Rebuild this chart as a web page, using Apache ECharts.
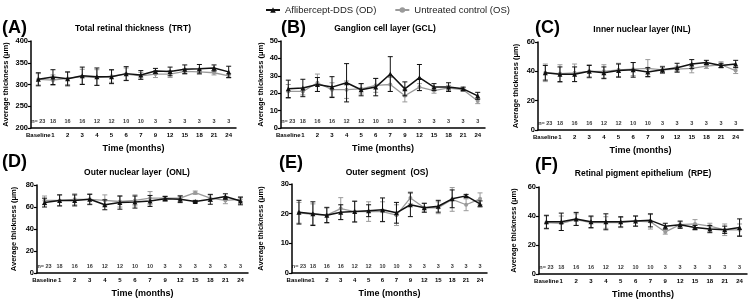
<!DOCTYPE html>
<html>
<head>
<meta charset="utf-8">
<script src="https://cdn.jsdelivr.net/npm/echarts@6/dist/echarts.min.js"></script>
<style>
  html, body { margin: 0; padding: 0; background: #fff; }
  #chart { width: 749px; height: 300px; }
</style>
</head>
<body>
<div id="chart"></div>
<script>
// x categories and n per timepoint
const months = ['Baseline', '1', '2', '3', '4', '5', '6', '7', '9', '12', '15', '18', '21', '24'];
const nCounts = [23, 18, 16, 16, 12, 12, 10, 10, 3, 3, 3, 3, 3, 3];

// (A) TRT
const trtOD   = [312, 317, 313, 320, 318, 318, 325, 322, 331, 330, 335, 336, 338, 329];
const trtODsd = [15, 17, 16, 20, 20, 16, 16, 10, 6, 10, 10, 10, 7, 13];
const trtOS   = [312, 310, 314, 318, 316, 319, 324, 320, 324, 324, 330, 329, 327, 320];
const trtOSsd = [13, 12, 14, 17, 18, 14, 14, 8, 8, 8, 6, 6, 5, 5];
// (B) GCL
const gclOD   = [22.5, 23, 25, 23.5, 26, 22, 23.5, 31, 22.5, 29, 23.5, 23.5, 22.5, 18.5];
const gclODsd = [5, 5, 4, 6, 11, 3.5, 5, 10, 4, 7.5, 2, 2.5, 1, 2];
const gclOS   = [21, 21, 26, 22, 22, 22.5, 24.5, 25, 18.5, 23.5, 21.5, 23, 22, 15.5];
const gclOSsd = [4, 2, 5, 4, 5, 3, 4, 4, 3.5, 2, 1.5, 1.5, 1, 1.5];
// (C) INL
const inlOD   = [39, 38, 38, 40, 39, 40.5, 41, 39.5, 41, 42.5, 45, 46, 44, 45];
const inlODsd = [5, 5, 5, 4, 4, 4.5, 5, 3, 2, 3, 3, 1.5, 1.5, 2.5];
const inlOS   = [39, 38.5, 39, 40, 40, 41, 41.5, 42, 41, 41.5, 42, 43.5, 44.5, 40.5];
const inlOSsd = [6, 6, 6, 4.5, 4.5, 4.5, 4.5, 6, 2.5, 2, 3, 1.5, 2, 2];
// (D) ONL
const onlOD   = [64, 66, 66, 67, 62, 64, 64.5, 65.5, 67.5, 67, 65, 67, 69.5, 65.5];
const onlODsd = [4, 5, 5, 4.5, 4.5, 6, 5.5, 5, 2, 3, 1, 4.5, 2.5, 3.5];
const onlOS   = [66, 66, 67, 67, 66, 65, 66, 68, 68, 68, 73, 68, 66, 67];
const onlOSsd = [4, 5, 5, 5, 5, 5, 5, 6, 2, 2.5, 1.5, 3, 3, 2];
// (E) OS
const osOD    = [20.5, 20, 19.5, 20.5, 20.7, 21, 21.3, 20.3, 23, 22, 22.5, 25, 26, 23.3];
const osODsd  = [4, 4, 2.5, 2.5, 3.5, 2, 4, 3.5, 4, 1.5, 2, 3, 0.5, 1];
const osOS    = [20.3, 19.8, 19.5, 21.7, 20.7, 20.7, 20.7, 19.5, 25.3, 22, 22, 24.8, 23, 25];
const osOSsd  = [3.5, 3.5, 2.7, 3.7, 3.5, 3.3, 3.3, 3.5, 2, 1.5, 2, 4, 2, 2];
// (F) RPE
const rpeOD   = [36, 36, 38, 36, 36, 36, 36.5, 37, 33, 34, 32, 31, 30.5, 32];
const rpeODsd = [4.5, 6, 4.5, 4, 5.5, 3.5, 3.5, 4.5, 2, 2.5, 1.5, 2.5, 2.5, 6];
const rpeOS   = [35.5, 35, 37.5, 35.5, 35.5, 35.5, 36.5, 36, 29, 34, 34.5, 33, 30.5, 30.5];
const rpeOSsd = [4.5, 5, 4, 4, 4, 3.5, 3.5, 5, 1.5, 2, 3, 2, 4, 4];

const panels = [
  { tag: '(A)', title: 'Total retinal thickness  (TRT)', od: trtOD, odSd: trtODsd, os: trtOS, osSd: trtOSsd,
    min: 200, max: 400, step: 50, grid: { left: 31, top: 41, width: 205, height: 87 }, nameGap: 21,
    tagPos: [2, 19], titlePos: [133, 24] },
  { tag: '(B)', title: 'Ganglion cell layer (GCL)', od: gclOD, odSd: gclODsd, os: gclOS, osSd: gclOSsd,
    min: 0, max: 50, step: 10, grid: { left: 281, top: 41, width: 204, height: 87 }, nameGap: 16,
    tagPos: [281, 19], titlePos: [385, 24] },
  { tag: '(C)', title: 'Inner nuclear layer (INL)', od: inlOD, odSd: inlODsd, os: inlOS, osSd: inlOSsd,
    min: 0, max: 60, step: 20, grid: { left: 538, top: 42, width: 205, height: 88 }, nameGap: 18,
    tagPos: [535, 19], titlePos: [642, 25] },
  { tag: '(D)', title: 'Outer nuclear layer  (ONL)', od: onlOD, odSd: onlODsd, os: onlOS, osSd: onlOSsd,
    min: 0, max: 80, step: 20, grid: { left: 37, top: 185, width: 211, height: 88 }, nameGap: 19,
    tagPos: [2, 153], titlePos: [137, 168] },
  { tag: '(E)', title: 'Outer segment  (OS)', od: osOD, odSd: osODsd, os: osOS, osSd: osOSsd,
    min: 0, max: 30, step: 10, grid: { left: 292, top: 184, width: 195, height: 89 }, nameGap: 27,
    tagPos: [279, 154], titlePos: [387, 168] },
  { tag: '(F)', title: 'Retinal pigment epithelium  (RPE)', od: rpeOD, odSd: rpeODsd, os: rpeOS, osSd: rpeOSsd,
    min: 0, max: 60, step: 20, grid: { left: 539, top: 187, width: 208, height: 88 }, nameGap: 21,
    tagPos: [535, 156], titlePos: [643, 169] }
];

const FONT = 'Liberation Sans, Arial, sans-serif';
const BLACK = '#111';
const GREY = '#9a9a9a';

function errorBars(color) {
  return function (params, api) {
    const x = api.value(0);
    const lo = api.coord([x, api.value(1)]);
    const hi = api.coord([x, api.value(2)]);
    const w = 2.5;
    const st = { stroke: color, lineWidth: 1 };
    return {
      type: 'group',
      children: [
        { type: 'line', shape: { x1: lo[0], y1: lo[1], x2: hi[0], y2: hi[1] }, style: st },
        { type: 'line', shape: { x1: lo[0] - w, y1: lo[1], x2: lo[0] + w, y2: lo[1] }, style: st },
        { type: 'line', shape: { x1: hi[0] - w, y1: hi[1], x2: hi[0] + w, y2: hi[1] }, style: st }
      ]
    };
  };
}

const option = {
  animation: false,
  legend: {
    top: 0, left: 260,
    itemWidth: 14, itemHeight: 7, itemGap: 18,
    textStyle: { fontFamily: FONT, fontSize: 9.5, color: '#222' },
    data: ['Aflibercept-DDS (OD)', 'Untreated control (OS)']
  },
  title: [], grid: [], xAxis: [], yAxis: [], series: []
};

panels.forEach((p, i) => {
  option.title.push({
    text: p.tag, left: p.tagPos[0], top: p.tagPos[1], padding: 0,
    textStyle: { fontFamily: FONT, fontSize: 18, fontWeight: 'bold', color: '#000' }
  });
  option.title.push({
    text: p.title, left: p.titlePos[0], top: p.titlePos[1], padding: 0, textAlign: 'center',
    textStyle: { fontFamily: FONT, fontSize: 8.5, fontWeight: 'bold', color: '#000' }
  });
  option.grid.push(p.grid);
  option.xAxis.push({
    type: 'category', gridIndex: i, data: months, boundaryGap: true,
    name: 'Time (months)', nameLocation: 'middle', nameGap: 16,
    nameTextStyle: { fontFamily: FONT, fontSize: 9, fontWeight: 'bold', color: '#000' },
    axisLine: { lineStyle: { color: '#000', width: 1.5 } },
    axisTick: { alignWithLabel: true, length: 3, lineStyle: { color: '#000', width: 1.2 } },
    axisLabel: { interval: 0, margin: 4, fontFamily: FONT, fontSize: 6, fontWeight: 'bold', color: '#000' },
    splitLine: { show: false }
  });
  option.yAxis.push({
    type: 'value', gridIndex: i, min: p.min, max: p.max, interval: p.step,
    name: 'Average thickness (μm)', nameLocation: 'middle', nameGap: p.nameGap,
    nameTextStyle: { fontFamily: FONT, fontSize: 7.5, fontWeight: 'bold', color: '#000' },
    axisLine: { show: true, lineStyle: { color: '#000', width: 1.5 } },
    axisTick: { show: true, length: 3, lineStyle: { color: '#000', width: 1.2 } },
    axisLabel: { margin: 3, fontFamily: FONT, fontSize: 7.5, fontWeight: 'bold', color: '#000' },
    splitLine: { show: false }
  });
  // error bars (grey first, black on top)
  option.series.push({
    type: 'custom', xAxisIndex: i, yAxisIndex: i, renderItem: errorBars(GREY), silent: true,
    encode: { x: 0, y: [1, 2] },
    data: p.os.map((m, k) => [k, m - p.osSd[k], m + p.osSd[k]]), z: 2
  });
  option.series.push({
    type: 'line', name: 'Untreated control (OS)', xAxisIndex: i, yAxisIndex: i, data: p.os,
    symbol: 'circle', symbolSize: 4, color: GREY,
    lineStyle: { color: GREY, width: 1.3 }, itemStyle: { color: GREY }, z: 3
  });
  option.series.push({
    type: 'custom', xAxisIndex: i, yAxisIndex: i, renderItem: errorBars(BLACK), silent: true,
    encode: { x: 0, y: [1, 2] },
    data: p.od.map((m, k) => [k, m - p.odSd[k], m + p.odSd[k]]), z: 4
  });
  option.series.push({
    type: 'line', name: 'Aflibercept-DDS (OD)', xAxisIndex: i, yAxisIndex: i, data: p.od,
    symbol: 'triangle', symbolSize: 5, color: BLACK,
    lineStyle: { color: BLACK, width: 1.5 }, itemStyle: { color: BLACK }, z: 5
  });
  // n per timepoint
  const nY = p.min + (p.max - p.min) * 0.07;
  option.series.push({
    type: 'scatter', xAxisIndex: i, yAxisIndex: i, symbolSize: 0, silent: true,
    data: nCounts.map((n, k) => [k, nY]),
    label: {
      show: true, position: 'inside',
      formatter: (q) => (q.dataIndex === 0 ? 'n= ' : '') + nCounts[q.dataIndex],
      fontFamily: FONT, fontSize: 5.5, fontWeight: 'bold', color: '#000'
    }
  });
});

const chart = echarts.init(document.getElementById('chart'));
chart.setOption(option);
window.addEventListener('resize', function () { chart.resize(); });
</script>
</body>
</html>
